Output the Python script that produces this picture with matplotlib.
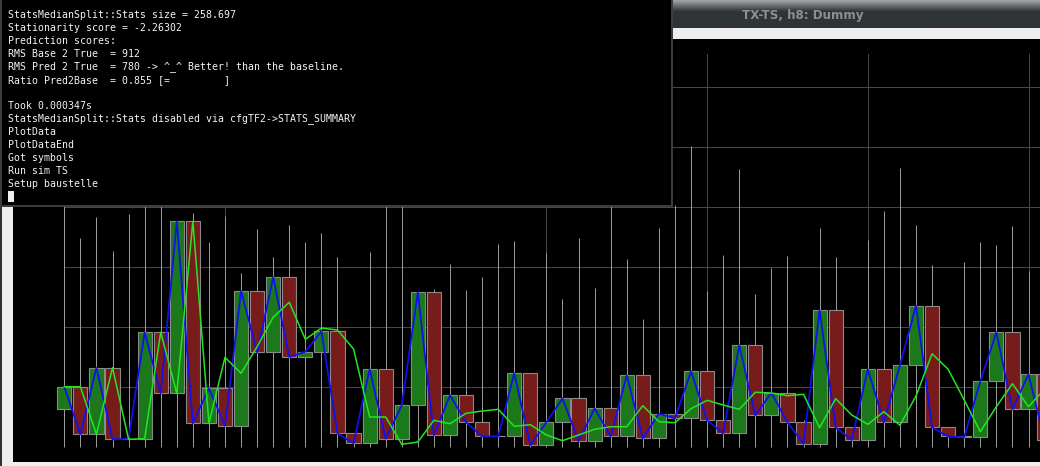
import numpy as np
import matplotlib
matplotlib.use("Agg")
import matplotlib.pyplot as plt
from matplotlib.patches import Rectangle

# ---------------- data ----------------
first_open = 62.8
close = [100.5, 21.2, 132.2, 12.8, 13.8, 191.2, 89.5, 376.2, 39.5, 97.8,
         35.5, 260.0, 157.8, 282.8, 150.0, 158.8, 192.8, 22.8, 6.2, 129.5,
         13.8, 69.5, 257.8, 19.5, 86.2, 41.2, 17.8, 17.8, 122.8, 2.8,
         41.2, 81.2, 9.5, 64.5, 17.8, 119.5, 14.5, 55.5, 47.8, 126.2,
         44.5, 22.8, 169.5, 52.8, 90.5, 41.2, 5.5, 227.8, 32.8, 11.7,
         129.5, 41.2, 136.2, 235.5, 32.8, 17.8, 16.2, 109.5, 191.2, 62.8,
         121.2, 11.7]
prediction = [100.5, 100.5, 21.2, 132.2, 12.8, 13.8, 191.2, 89.5, 376.2, 39.5,
              149.5, 122.8, 167.2, 216.2, 241.2, 179.5, 198.3, 195.0, 163.3, 50.0,
              50.0, 4.5, 8.3, 44.5, 38.8, 56.2, 60.0, 62.8, 34.5, 37.2,
              20.0, 10.5, 20.0, 29.5, 33.8, 33.8, 68.8, 42.2, 40.5, 63.8,
              77.8, 70.0, 62.8, 91.2, 90.0, 85.5, 87.8, 32.2, 80.5, 53.3,
              37.8, 58.8, 36.2, 85.0, 155.5, 129.5, 78.3, 25.5, 67.2, 105.5,
              67.2, 96.2]
high = [411.7, 347.8, 382.8, 326.7, 388.3, 420.0, 428.3, 376.2, 389.5, 341.2,
        385.0, 290.0, 362.8, 316.2, 370.0, 341.2, 356.2, 316.7, 23.3, 325.5,
        428.3, 436.7, 257.8, 262.8, 305.0, 261.7, 282.8, 338.3, 343.3, 122.8,
        323.8, 246.7, 347.8, 264.5, 420.0, 313.3, 213.3, 364.5, 403.3, 501.7,
        260.5, 320.0, 463.3, 255.0, 298.3, 318.3, 45.0, 364.5, 316.2, 32.8,
        345.0, 393.3, 465.0, 370.0, 303.3, 33.3, 308.3, 341.2, 336.7, 368.3,
        293.8, 245.0]
grid_y = [100, 200, 300, 400, 500, 600]
grid_x = [0, 10, 20, 30, 40, 50, 60]

terminal_lines = [
    "StatsMedianSplit::Stats size = 258.697",
    "Stationarity score = -2.26302",
    "Prediction scores:",
    "RMS Base 2 True  = 912",
    "RMS Pred 2 True  = 780 -> ^_^ Better! than the baseline.",
    "Ratio Pred2Base  = 0.855 [=         ]",
    "",
    "Took 0.000347s",
    "StatsMedianSplit::Stats disabled via cfgTF2->STATS_SUMMARY",
    "PlotData",
    "PlotDataEnd",
    "Got symbols",
    "Run sim TS",
    "Setup baustelle",
]
window_title = "TX-TS, h8: Dummy"

# ---------------- figure ----------------
W, H = 1040, 466
fig = plt.figure(figsize=(W / 100, H / 100), dpi=100)
fig.patch.set_facecolor("#eeeeee")

# background (pixel coordinates)
bg = fig.add_axes([0, 0, 1, 1])
bg.set_xlim(0, W); bg.set_ylim(H, 0); bg.axis("off")
bg.add_patch(Rectangle((0, 0), 2, H, color="#2f3336", lw=0))
bg.add_patch(Rectangle((13, 39), W - 13, 462 - 39, color="black", lw=0))

# main plot axes
px0, step = 64.3, 16.07
ax_left, ax_top, ax_bottom = 63.5, 54, 447
ax = fig.add_axes([ax_left / W, (H - ax_bottom) / H, (W - ax_left) / W,
                   (ax_bottom - ax_top) / H])
ax.set_facecolor("none")
ax.set_xlim((ax_left - px0) / step, (W - px0) / step)
ax.set_ylim(0, (ax_bottom - ax_top) / 0.6)
for s in ax.spines.values():
    s.set_visible(False)
ax.set_xticks(grid_x)
ax.set_yticks(grid_y)
ax.tick_params(length=0, labelbottom=False, labelleft=False)
ax.grid(True, color="#464646", lw=0.72, snap=True)
ax.set_axisbelow(True)

n = len(close)
x = np.arange(n)
opens = np.array([first_open] + close[:-1])
closes = np.array(close)

ax.vlines(x, 0, high, color="#9a9a9a", lw=0.72, zorder=2, clip_on=False,
          snap=True)
up = closes >= opens
colors = np.where(up, "#1b781b", "#781b1b")
ax.bar(x, closes - opens, bottom=opens, width=0.88, color=colors,
       edgecolor="#8a8a8a", linewidth=0.8, zorder=3, clip_on=False)
ax.plot(x, closes, color="#1010f0", lw=1.3, zorder=4, clip_on=False)
ax.plot(x, prediction, color="#22e622", lw=1.1, zorder=5, clip_on=False)

# overlay: terminal window and chart window title bar
ov = fig.add_axes([0, 0, 1, 1])
ov.set_xlim(0, W); ov.set_ylim(H, 0); ov.axis("off")
ov.patch.set_alpha(0)

# title bar gradient
grad = np.linspace(0, 1, 28)
top_c = np.array([160, 163, 165]) / 255
bot_c = np.array([47, 52, 55]) / 255
t = np.clip(grad / 0.4, 0, 1)[:, None]
img = (top_c * (1 - t) + bot_c * t)[:, None, :]
ov.imshow(img, extent=(672, W, 28, 0), aspect="auto", interpolation="bilinear",
          zorder=1)
ov.add_patch(Rectangle((672, 28), W - 672, 11, color="#eeeeee", lw=0, zorder=1))
ov.text(803, 15.5, window_title, color="#8c8f91", fontsize=8.6,
        fontweight="bold", family="DejaVu Sans", ha="center", va="center",
        zorder=2)

# terminal
ov.add_patch(Rectangle((0, 0), 672.7, 207, color="#3a3e41", lw=0, zorder=3))
ov.add_patch(Rectangle((1.5, 0), 669, 205, color="black", lw=0, zorder=4))
for i, line in enumerate(terminal_lines):
    if line:
        ov.text(7.7, 15 + 13 * i, line, color="#f4f4f4", fontsize=7.1,
                family="DejaVu Sans Mono", ha="left", va="center", zorder=5)
ov.add_patch(Rectangle((7.7, 190.7), 6.3, 11.6, color="#f0f0f0", lw=0, zorder=5))

fig.savefig("out.png", dpi=100, facecolor=fig.get_facecolor())
